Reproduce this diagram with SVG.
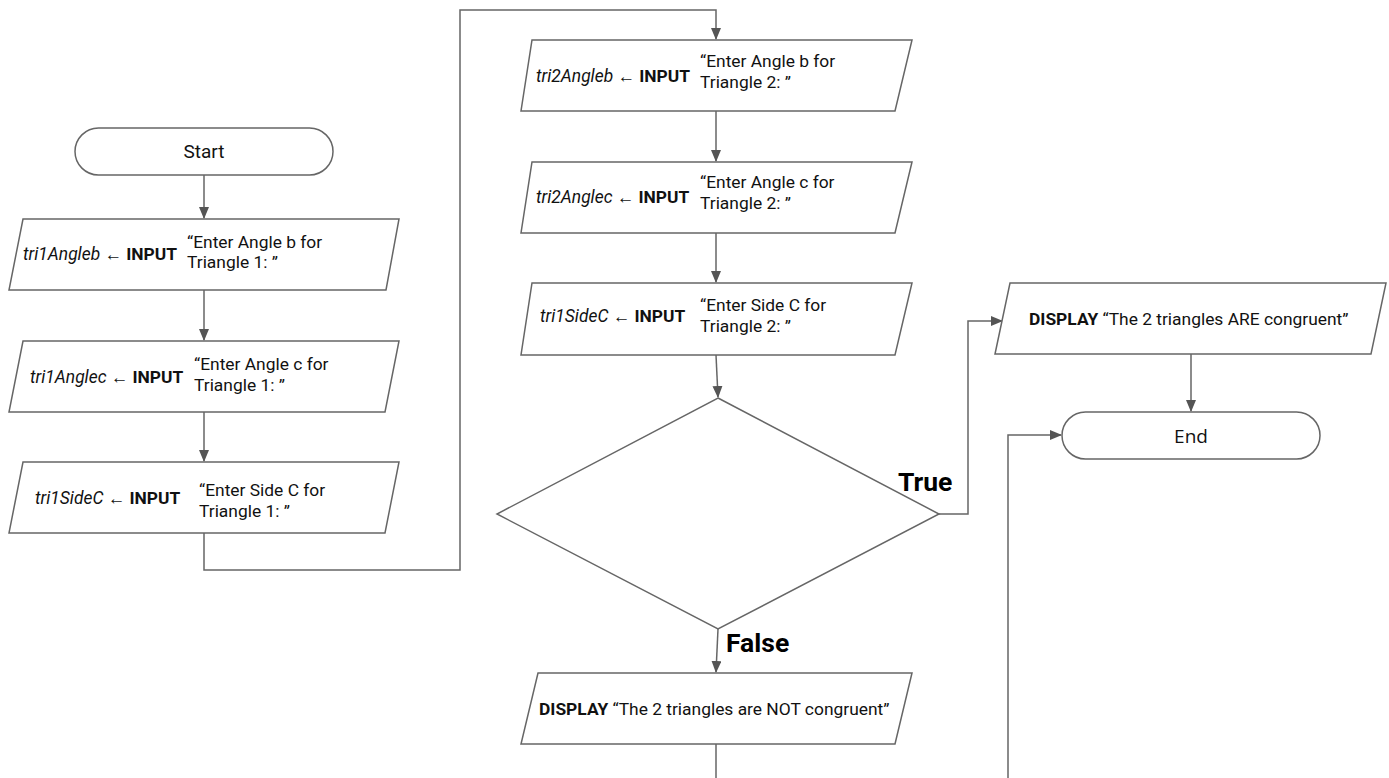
<svg xmlns="http://www.w3.org/2000/svg" width="1389" height="778" viewBox="0 0 1389 778">
<style>
.sh{fill:#fff;stroke:#666;stroke-width:1.5}
.cn{fill:none;stroke:#666;stroke-width:1.5}
.t{font-family:Roboto,"Liberation Sans",sans-serif;font-size:17.4px;fill:#111}
.i{font-style:italic}
.b{font-weight:bold}
.lbl{font-family:Roboto,"Liberation Sans",sans-serif;font-size:26.5px;font-weight:bold;fill:#000}
.term{font-family:Roboto,"Liberation Sans",sans-serif;font-size:19px;fill:#111}
</style>
<defs>
<marker id="ah" markerUnits="userSpaceOnUse" markerWidth="12" markerHeight="10" refX="11" refY="5" orient="auto">
<path d="M0,0 L12,5 L0,10 z" fill="#555"/>
</marker>
</defs>
<g id="connectors">
<path class="cn" d="M204,175 V218" marker-end="url(#ah)"/>
<path class="cn" d="M204,290 V340" marker-end="url(#ah)"/>
<path class="cn" d="M204,412 V461" marker-end="url(#ah)"/>
<path class="cn" d="M204,533 V570 H460 V10 H716 V39" marker-end="url(#ah)"/>
<path class="cn" d="M716,111 V161" marker-end="url(#ah)"/>
<path class="cn" d="M716,232 V282" marker-end="url(#ah)"/>
<path class="cn" d="M716,355 L718,397" marker-end="url(#ah)"/>
<path class="cn" d="M939,514 H968 V321 H1002" marker-end="url(#ah)"/>
<path class="cn" d="M718,629 L716,672" marker-end="url(#ah)"/>
<path class="cn" d="M716,744 V778"/>
<path class="cn" d="M1191,354 V411" marker-end="url(#ah)"/>
<path class="cn" d="M1008,778 V435 H1061" marker-end="url(#ah)"/>
<text class="lbl" x="898" y="491">True</text>
<text class="lbl" x="726" y="652">False</text>
</g>
<g id="start">
<rect class="sh" x="75" y="128" width="258" height="47" rx="23.5"/>
<text class="term" x="204" y="158" text-anchor="middle">Start</text>
</g>
<g id="in1">
<polygon class="sh" points="23,219 399,219 386,290 9,290"/>
<text class="t" x="23" y="260"><tspan class="i">tri1Angleb</tspan> ← <tspan class="b">INPUT</tspan></text>
<text class="t" x="187" y="248">“Enter Angle b for<tspan x="187" y="268">Triangle 1: ”</tspan></text>
</g>
<g id="in2">
<polygon class="sh" points="23,341 399,341 385,412 9,412"/>
<text class="t" x="30" y="383"><tspan class="i">tri1Anglec</tspan> ← <tspan class="b">INPUT</tspan></text>
<text class="t" x="194" y="370">“Enter Angle c for<tspan x="194" y="391">Triangle 1: ”</tspan></text>
</g>
<g id="in3">
<polygon class="sh" points="23,462 399,462 385,533 9,533"/>
<text class="t" x="35" y="504"><tspan class="i">tri1SideC</tspan> ← <tspan class="b">INPUT</tspan></text>
<text class="t" x="199" y="496">“Enter Side C for<tspan x="199" y="517">Triangle 1: ”</tspan></text>
</g>
<g id="in4">
<polygon class="sh" points="532,40 912,40 895,111 521,111"/>
<text class="t" x="536" y="82"><tspan class="i">tri2Angleb</tspan> ← <tspan class="b">INPUT</tspan></text>
<text class="t" x="700" y="67">“Enter Angle b for<tspan x="700" y="88">Triangle 2: ”</tspan></text>
</g>
<g id="in5">
<polygon class="sh" points="532,162 912,162 895,233 521,233"/>
<text class="t" x="536" y="203"><tspan class="i">tri2Anglec</tspan> ← <tspan class="b">INPUT</tspan></text>
<text class="t" x="700" y="188">“Enter Angle c for<tspan x="700" y="209">Triangle 2: ”</tspan></text>
</g>
<g id="in6">
<polygon class="sh" points="532,283 912,283 895,355 521,355"/>
<text class="t" x="540" y="322"><tspan class="i">tri1SideC</tspan> ← <tspan class="b">INPUT</tspan></text>
<text class="t" x="700" y="311">“Enter Side C for<tspan x="700" y="332">Triangle 2: ”</tspan></text>
</g>
<g id="decision">
<polygon class="sh" points="718,398 939,514 718,629 497,514"/>
</g>
<g id="outTrue">
<polygon class="sh" points="1010,283 1386,283 1371,354 995,354"/>
<text class="t" x="1029" y="325"><tspan class="b">DISPLAY</tspan> “The 2 triangles ARE congruent”</text>
</g>
<g id="outFalse">
<polygon class="sh" points="538,673 912,673 895,744 521,744"/>
<text class="t" x="539" y="715"><tspan class="b">DISPLAY</tspan> “The 2 triangles are NOT congruent”</text>
</g>
<g id="end">
<rect class="sh" x="1062" y="412" width="258" height="47" rx="23.5"/>
<text class="term" x="1191" y="443" text-anchor="middle" style="font-family:'Open Sans','Noto Sans',sans-serif">End</text>
</g>
</svg>
